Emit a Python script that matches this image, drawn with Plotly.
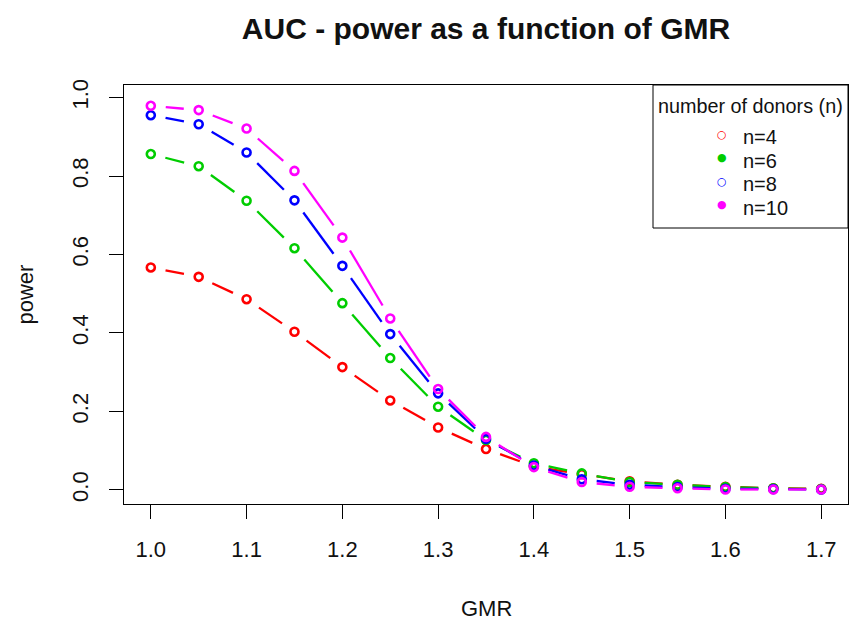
import plotly.graph_objects as go

# ---- data ----
gmr = [1.0, 1.05, 1.1, 1.15, 1.2, 1.25, 1.3, 1.35, 1.4, 1.45, 1.5, 1.55, 1.6, 1.65, 1.7]
power_n4 = [0.567, 0.543, 0.486, 0.403, 0.313, 0.228, 0.159, 0.104, 0.060, 0.040, 0.022, 0.013, 0.008, 0.004, 0.003]
power_n6 = [0.856, 0.825, 0.737, 0.616, 0.476, 0.336, 0.212, 0.127, 0.068, 0.042, 0.020, 0.013, 0.007, 0.004, 0.002]
power_n8 = [0.955, 0.932, 0.860, 0.738, 0.571, 0.397, 0.246, 0.130, 0.062, 0.027, 0.013, 0.007, 0.003, 0.002, 0.001]
power_n10 = [0.979, 0.968, 0.921, 0.813, 0.643, 0.437, 0.257, 0.135, 0.058, 0.020, 0.008, 0.004, 0.001, 0.001, 0.001]

series_names = ["n=4", "n=6", "n=8", "n=10"]
series_values = [power_n4, power_n6, power_n8, power_n10]
series_colors = ["#FF0000", "#00CD00", "#0000FF", "#FF00FF"]
legend_filled = [False, True, False, True]

x_ticks = [1.0, 1.1, 1.2, 1.3, 1.4, 1.5, 1.6, 1.7]
x_tick_labels = ["1.0", "1.1", "1.2", "1.3", "1.4", "1.5", "1.6", "1.7"]
y_ticks = [0.0, 0.2, 0.4, 0.6, 0.8, 1.0]
y_tick_labels = ["0.0", "0.2", "0.4", "0.6", "0.8", "1.0"]

# ---- layout geometry (page body has an 8px margin) ----
OFF = 8
W, H = 862 - OFF, 621 - OFF
ML, MR, MT, MB = 124 - OFF, 14, 85 - OFF, 117
PW, PH = W - ML - MR, H - MT - MB
XR = [0.972, 1.728]
YR = [-0.036, 1.032]
sx = PW / (XR[1] - XR[0])   # px per x unit
sy = PH / (YR[1] - YR[0])   # px per y unit
GAP = 15  # px gap around points (R type="b")

FONT = "Arial, Liberation Sans, Helvetica, sans-serif"

fig = go.Figure()

for name, vals, col in zip(series_names, series_values, series_colors):
    # line segments with gaps around the points (like R's type="b")
    lx, ly = [], []
    for i in range(len(gmr) - 1):
        x0, y0, x1, y1 = gmr[i], vals[i], gmr[i + 1], vals[i + 1]
        dxp, dyp = (x1 - x0) * sx, (y1 - y0) * sy
        L = (dxp ** 2 + dyp ** 2) ** 0.5
        if L <= 2 * GAP:
            continue
        t0, t1 = GAP / L, 1 - GAP / L
        lx += [x0 + (x1 - x0) * t0, x0 + (x1 - x0) * t1, None]
        ly += [y0 + (y1 - y0) * t0, y0 + (y1 - y0) * t1, None]
    fig.add_trace(go.Scatter(x=lx, y=ly, mode="lines", line=dict(color=col, width=2.3),
                             showlegend=False, hoverinfo="skip"))
    fig.add_trace(go.Scatter(x=gmr, y=vals, mode="markers", name=name,
                             marker=dict(symbol="circle-open", size=8, color=col,
                                         line=dict(width=2.6, color=col)),
                             showlegend=False))

axis_common = dict(showgrid=False, zeroline=False, showline=True, mirror=True,
                   linecolor="black", linewidth=1, ticks="outside", ticklen=14,
                   tickcolor="black", tickwidth=1,
                   tickfont=dict(family=FONT, size=22, color="#111111"))

fig.update_xaxes(range=XR, tickvals=x_ticks, ticktext=x_tick_labels,
                 ticklabelstandoff=12, **axis_common)
fig.update_yaxes(range=YR, tickvals=y_ticks, ticktext=y_tick_labels,
                 tickangle=-90, ticklabelstandoff=12, **axis_common)

annotations = [
    dict(text="GMR", xref="paper", yref="paper", x=0.5, y=0, yanchor="middle",
         yshift=-(608 - 504), showarrow=False, height=22, valign="middle", borderpad=0,
         font=dict(family=FONT, size=22, color="#111111")),
    dict(text="power", xref="paper", yref="paper", x=0, y=0.5, xanchor="center",
         xshift=25 - 124, textangle=-90, showarrow=False,
         font=dict(family=FONT, size=22, color="#111111")),
]

# ---- legend box (R-style, drawn in paper coordinates; args are screen px) ----
def px_x(p):
    return (p - OFF - ML) / PW

def px_y(p):
    return (OFF + H - MB - p) / PH

shapes = [dict(type="rect", xref="paper", yref="paper",
               x0=px_x(653), x1=1.0, y0=px_y(228), y1=1.0,
               line=dict(color="black", width=1), fillcolor="white", layer="above")]

annotations.append(dict(text="number of donors (n)", xref="paper", yref="paper",
                        x=px_x(750.5), y=px_y(106), xanchor="center", yanchor="middle",
                        showarrow=False, font=dict(family=FONT, size=19.8, color="#111111")))
item_y = [137, 160.5, 184, 207.5]
for name, col, filled, yy in zip(series_names, series_colors, legend_filled, item_y):
    annotations.append(dict(text=name, xref="paper", yref="paper", x=px_x(741), y=px_y(yy),
                            xanchor="left", yanchor="middle", showarrow=False,
                            font=dict(family=FONT, size=20, color="#111111")))
    annotations.append(dict(text="●" if filled else "○", xref="paper", yref="paper",
                            x=px_x(722), y=px_y(yy - 3), xanchor="center", yanchor="middle",
                            showarrow=False,
                            font=dict(family="DejaVu Sans", size=11, color=col)))

fig.update_layout(
    width=W, height=H,
    margin=dict(l=ML, r=MR, t=MT, b=MB, pad=0),
    paper_bgcolor="white", plot_bgcolor="white",
    title=dict(text="<b>AUC - power as a function of GMR</b>", xref="paper", x=0.5,
               xanchor="center", yref="container", y=1 - (28 - OFF) / H, yanchor="middle",
               font=dict(family=FONT, size=30, color="#111111")),
    shapes=shapes, annotations=annotations, showlegend=False,
)

fig.write_html("out.html")
